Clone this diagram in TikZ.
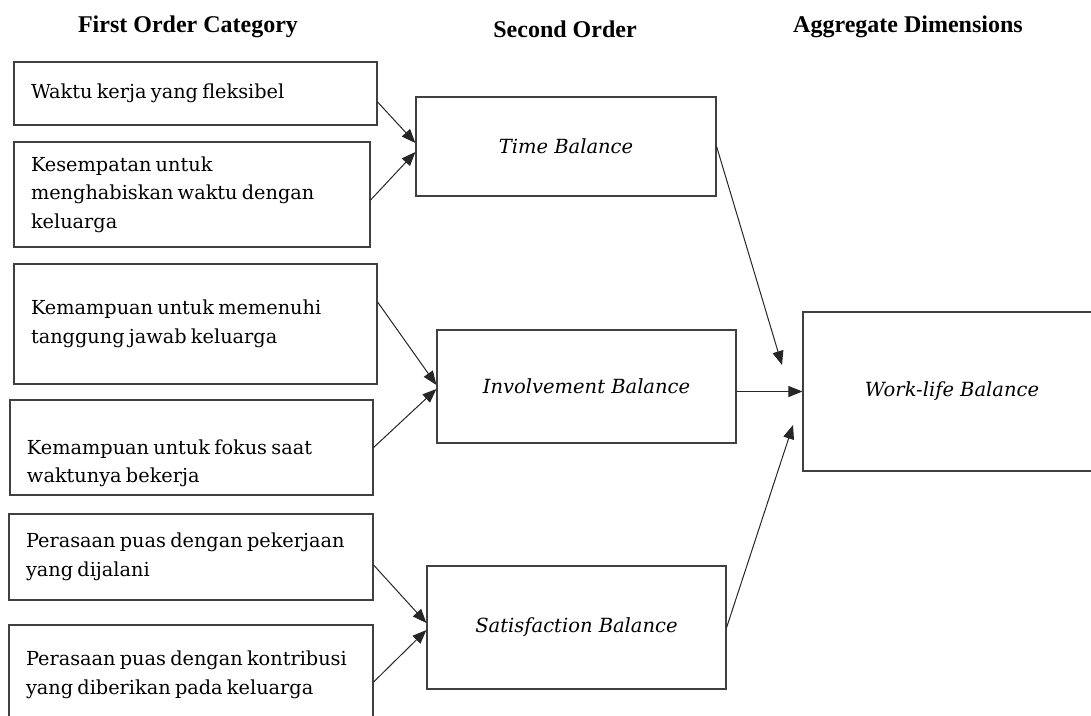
\documentclass[tikz,border=0pt]{standalone}
\usepackage{fontspec}
\setmainfont{DejaVu Serif}
\newfontfamily\headfont{Liberation Serif}
\usetikzlibrary{arrows.meta}
\hyphenpenalty = 10000
\newcommand\dropby[1]{\par\vspace*{#1}}
\tikzset{
    > = {Triangle[length = 14pt, width = 11pt]},
    box/.style = {draw = black!75, line width = 1.2pt, inner ysep = 0pt},
    first/.style = {box, inner xsep = 17pt, text width = #1, align = left,
        font = \fontsize{19.3}{28.5}\selectfont,
        execute at begin node = {\spaceskip = 0.22em\relax}},
    first/.default = 329pt,
    second/.style = {box, font = \itshape\fontsize{19.5}{24}\selectfont},
    head/.style = {anchor = base, font = \headfont\bfseries\fontsize{24}{28}\selectfont},
    every edge/.style = {draw, ->, line width = 1pt, black!85}
}
\begin{document}
\begin{tikzpicture}[x = 1pt, y = -1pt]
    \path[use as bounding box, clip] (0, 0) rectangle (1091, 715);

    \node[head] (h1) at (188, 32) {First Order Category};
    \node[head] (h2) at (565, 37) {Second Order};
    \node[head] (h3) at (908, 32) {Aggregate Dimensions};

    \node[first, minimum height = 63pt] (a1) at (195.5, 93.5) {Waktu kerja yang fleksibel};
    \node[first = 322pt, minimum height = 105pt] (a2) at (192, 194.5) {Kesempatan untuk\\ menghabiskan waktu dengan\\ keluarga};
    \node[first, minimum height = 120pt] (b1) at (195.5, 324) {Kemampuan untuk memenuhi\\ tanggung jawab keluarga};
    \node[first, minimum height = 95pt] (b2) at (191.5, 447.5) {\dropby{18pt}Kemampuan untuk fokus saat\\ waktunya bekerja};
    \node[first = 330pt, minimum height = 86pt] (c1) at (191, 557) {\mbox{Perasaan puas dengan pekerjaan}\\ yang dijalani};
    \node[first = 330pt, minimum height = 100pt] (c2) at (191, 675) {\mbox{Perasaan puas dengan kontribusi}\\ yang diberikan pada keluarga};

    \node[second, minimum width = 300pt, minimum height = 99pt] (time) at (566, 146.5) {Time Balance};
    \node[second, minimum width = 299pt, minimum height = 113pt] (inv) at (586.5, 386.5) {Involvement Balance};
    \node[second, minimum width = 299pt, minimum height = 123pt] (sat) at (576.5, 627.5) {Satisfaction Balance};
    \node[second, minimum width = 298pt, minimum height = 159pt] (wlb) at (952, 391.5) {Work-life Balance};

    \coordinate (tA) at (782, 365);
    \coordinate (tS) at (793, 425);

    \draw ([yshift = -8.5pt]a1.east) edge ([yshift = 3.5pt]time.west);
    \draw ([yshift = -5.5pt]a2.east) edge ([yshift = -5.5pt]time.west);
    \draw ([yshift = 22pt]b1.east) edge ([yshift = 1.5pt]inv.west);
    \draw (b2.east) edge ([yshift = -2.5pt]inv.west);
    \draw ([yshift = -8pt]c1.east) edge ([yshift = 4.5pt]sat.west);
    \draw ([yshift = -7pt]c2.east) edge ([yshift = -2.5pt]sat.west);

    \draw (time.east) edge (tA);
    \draw (wlb.west -| inv.east) edge (wlb.west);
    \draw (sat.east) edge (tS);
\end{tikzpicture}
\end{document}
